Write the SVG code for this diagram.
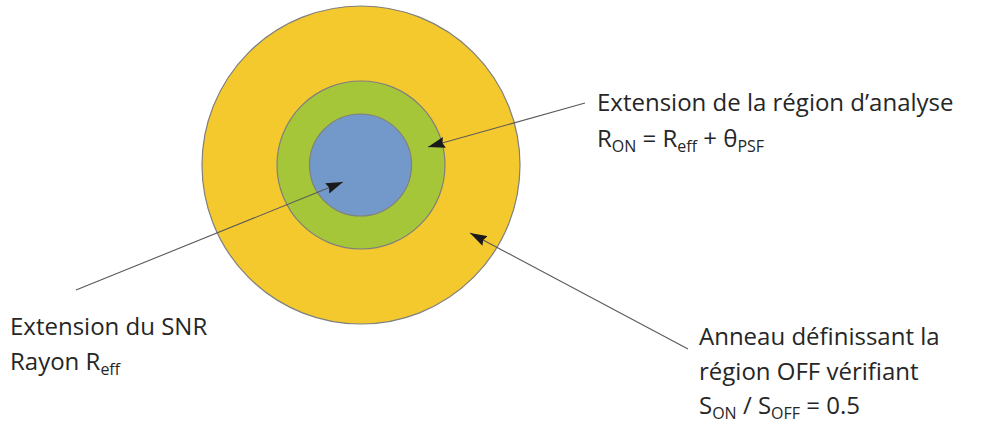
<svg xmlns="http://www.w3.org/2000/svg" width="985" height="425" viewBox="0 0 985 425">
<defs>
<style>
.ring{stroke:#7f7f7f;stroke-width:1.2}
.lbl{font-family:"Open Sans","Liberation Sans",sans-serif;font-size:24px;fill:#262626}
.sub{font-size:16px}
.conn{stroke:#595959;stroke-width:1.1;fill:none;marker-end:url(#ah)}
</style>
<marker id="ah" markerUnits="userSpaceOnUse" markerWidth="18" markerHeight="12" refX="17" refY="6" orient="auto">
<path d="M0,0.5 L17,6 L0,11.5 L2,6 Z" fill="#1a1a1a"/>
</marker>
</defs>
<rect width="985" height="425" fill="#fff"/>
<g id="outer"><circle class="ring" cx="361" cy="165" r="159" fill="#f4c92e"/></g>
<g id="middle"><circle class="ring" cx="361" cy="165" r="84" fill="#a6c639"/></g>
<g id="inner"><circle class="ring" cx="360.5" cy="165" r="51" fill="#7399cb"/></g>
<g id="connectors">
<line class="conn" x1="585" y1="103" x2="428" y2="147"/>
<line class="conn" x1="76" y1="290" x2="343" y2="182"/>
<line class="conn" x1="688" y1="349" x2="470" y2="233"/>
</g>
<g id="label-on">
<text class="lbl" x="597" y="111">Extension de la région d’analyse</text>
<text class="lbl" x="597" y="147">R<tspan class="sub" dy="5">ON</tspan><tspan dy="-5"> = R</tspan><tspan class="sub" dy="5">eff</tspan><tspan dy="-5"> + θ</tspan><tspan class="sub" dy="5">PSF</tspan></text>
</g>
<g id="label-snr">
<text class="lbl" x="10" y="335">Extension du SNR</text>
<text class="lbl" x="10" y="370">Rayon R<tspan class="sub" dy="5">eff</tspan></text>
</g>
<g id="label-off">
<text class="lbl" x="699" y="345">Anneau définissant la</text>
<text class="lbl" x="699" y="380">région OFF vérifiant</text>
<text class="lbl" x="699" y="414">S<tspan class="sub" dy="5">ON</tspan><tspan dy="-5"> / S</tspan><tspan class="sub" dy="5">OFF</tspan><tspan dy="-5"> = 0.5</tspan></text>
</g>
</svg>
